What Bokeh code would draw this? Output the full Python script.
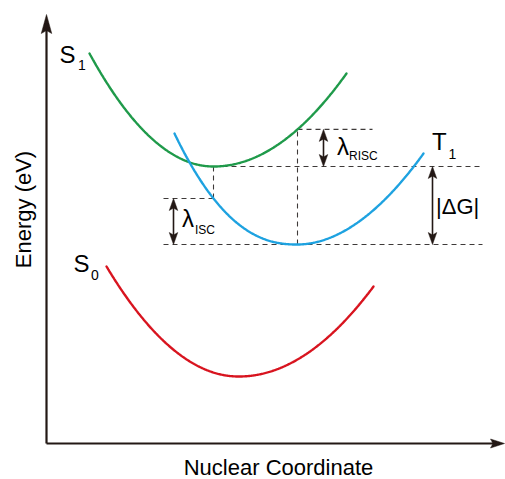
import numpy as np
from bokeh.plotting import figure
from bokeh.models import Range1d, ColumnDataSource
from bokeh.core.properties import value
from bokeh.embed import file_html
from bokeh.resources import INLINE

# ---------------- data (arbitrary units: nuclear coordinate X, energy E) ----------------
states      = ["S1", "T1", "S0"]
x_min       = [167, 251, 192]
e_min       = [277, 199, 67]
x_left      = [43, 128, 60]
e_left      = [390, 310, 177]
x_left_mid  = [87, 167, 104]
e_left_mid  = [324, 245, 116]
x_right     = [300, 377, 327]
e_right     = [370, 290, 157]
x_right_mid = [252, 314, 274]
e_right_mid = [315, 223, 100]

axis_x_end = 458
axis_y_end = 429

x_label = "Nuclear Coordinate"
y_label = "Energy (eV)"

# ---------------- layout / style ----------------
W, H = 505, 479
XR = (-46, 459)
YR = (-36, 443)
sx = (XR[1] - XR[0]) / W   # data units per screen px
sy = (YR[1] - YR[0]) / H
BL = 0.37  # baseline correction (em) for svg text placement

colors = {"S1": "#1f9a4a", "T1": "#1ea2e0", "S0": "#d8141f"}
ink = "#231815"
dash_col = "#3e3a39"
FONT = "Liberation Sans"

guide_left = 117
guide_right = 436
risc_guide_right = 326
isc_arrow_x = 127
risc_arrow_x = 277
dg_arrow_x = 386


def branch_exp(i, side):
    if side == "L":
        xe, ee, xm, em = x_left[i], e_left[i], x_left_mid[i], e_left_mid[i]
    else:
        xe, ee, xm, em = x_right[i], e_right[i], x_right_mid[i], e_right_mid[i]
    p = np.log((ee - e_min[i]) / (em - e_min[i])) / np.log(abs(xe - x_min[i]) / abs(xm - x_min[i]))
    return xe, ee, p


def curve_at(i, X):
    side = "L" if X < x_min[i] else "R"
    xe, ee, p = branch_exp(i, side)
    t = (X - x_min[i]) / (xe - x_min[i])
    return e_min[i] + (ee - e_min[i]) * t ** p


def curve_pts(i, n=150):
    xs, es = [], []
    for side in ("L", "R"):
        xe, ee, p = branch_exp(i, side)
        t = np.linspace(0, 1, n)
        X = x_min[i] + (xe - x_min[i]) * t
        E = e_min[i] + (ee - e_min[i]) * t ** p
        if side == "L":
            X, E = X[::-1], E[::-1]
        xs.append(X)
        es.append(E)
    return np.concatenate(xs), np.concatenate(es)


def head(tx, ty, dx, dy, L, Wd, ind):
    nx, ny = -dy, dx
    pts = [(0, 0),
           (-L * dx + Wd / 2 * nx, -L * dy + Wd / 2 * ny),
           (-(L - ind) * dx, -(L - ind) * dy),
           (-L * dx - Wd / 2 * nx, -L * dy - Wd / 2 * ny)]
    return [tx + a * sx for a, b in pts], [ty + b * sy for a, b in pts]


p = figure(width=W, height=H, x_range=Range1d(*XR), y_range=Range1d(*YR),
           output_backend="svg", toolbar_location=None, min_border=0,
           x_axis_type=None, y_axis_type=None)
p.grid.visible = False
p.outline_line_color = None
p.background_fill_color = "white"

iS1, iT1, iS0 = 0, 1, 2
E_s1 = e_min[iS1]
E_t1 = e_min[iT1]
X_s1 = x_min[iS1]
X_t1 = x_min[iT1]
E_isc = curve_at(iT1, X_s1)
E_risc = curve_at(iS1, X_t1)

# dashed guides
gx0 = [X_s1, X_s1, guide_left, guide_left, X_t1, X_t1]
gx1 = [guide_right, X_s1, X_s1, guide_right, X_t1, risc_guide_right]
gy0 = [E_s1, E_s1, E_isc, E_t1, E_t1, E_risc]
gy1 = [E_s1, E_isc, E_isc, E_t1, E_risc, E_risc]
p.segment(gx0, gy0, gx1, gy1, line_color=dash_col, line_width=1.1, line_dash="5 4")

# curves
for i, s in enumerate(states):
    X, E = curve_pts(i)
    p.line(X, E, line_color=colors[s], line_width=2.4, line_cap="round")

# axes
p.segment([0, 0], [0, 0], [axis_x_end - 8 * sx, 0], [0, axis_y_end - 10 * sy],
          line_color=ink, line_width=2.2)
hx, hy = [], []
a = head(axis_x_end, 0, 1, 0, 14, 9, 2.5); hx.append(a[0]); hy.append(a[1])
a = head(0, axis_y_end, 0, 1, 19, 10.5, 3); hx.append(a[0]); hy.append(a[1])

# double arrows
for ax, e_lo, e_hi in [(isc_arrow_x, E_t1, E_isc), (risc_arrow_x, E_s1, E_risc), (dg_arrow_x, E_t1, E_s1)]:
    p.segment([ax], [e_lo + 6 * sy], [ax], [e_hi - 6 * sy], line_color=ink, line_width=1.6)
    a = head(ax, e_hi, 0, 1, 12, 8.5, 2.5); hx.append(a[0]); hy.append(a[1])
    a = head(ax, e_lo, 0, -1, 12, 8.5, 2.5); hx.append(a[0]); hy.append(a[1])
p.patches(hx, hy, fill_color=ink, line_color=ink, line_width=0.5)

# labels: (text, anchor x, anchor y, dx px, dy px (down, to baseline), size px)
mid_isc = (E_isc + E_t1) / 2
mid_risc = (E_risc + E_s1) / 2
mid_dg = (E_s1 + E_t1) / 2
lab = [
    ("S", x_left[iS1], e_left[iS1], -30, 9.5, 24),
    ("1", x_left[iS1], e_left[iS1], -11.5, 17, 14),
    ("T", x_right[iT1], e_right[iT1], 8.5, -3, 24),
    ("1", x_right[iT1], e_right[iT1], 25, 6, 14),
    ("S", x_left[iS0], e_left[iS0], -33, 6, 24),
    ("0", x_left[iS0], e_left[iS0], -15.5, 14, 14),
    ("λ", risc_arrow_x, mid_risc, 13.5, 7, 24),
    ("RISC", risc_arrow_x, mid_risc, 25.5, 12, 12),
    ("λ", isc_arrow_x, mid_isc, 8.5, 6, 24),
    ("ISC", isc_arrow_x, mid_isc, 21.5, 12.5, 12),
    ("|ΔG|", dg_arrow_x, mid_dg, 3.5, 9, 22),
]
src = ColumnDataSource(dict(
    x=[l[1] + l[3] * sx for l in lab],
    y=[l[2] - (l[4] - BL * l[5]) * sy for l in lab],
    t=[l[0] for l in lab],
    fs=[f"{l[5]}px" for l in lab],
))
p.text("x", "y", text="t", source=src, text_font=value(FONT), text_font_size="fs",
       text_color="black", text_align="left", text_baseline="alphabetic")

AX_FS = 22
p.text([axis_x_end / 2 + 3], [-32 + BL * AX_FS * sy], text=[x_label], text_font=value(FONT),
       text_font_size=f"{AX_FS}px", text_color="black", text_align="center", text_baseline="alphabetic")
p.text([-15 - BL * AX_FS * sx], [234], text=[y_label], angle=np.pi / 2, text_font=value(FONT),
       text_font_size=f"{AX_FS}px", text_color="black", text_align="center", text_baseline="alphabetic")

open("out.html", "w").write(file_html(p, INLINE))
